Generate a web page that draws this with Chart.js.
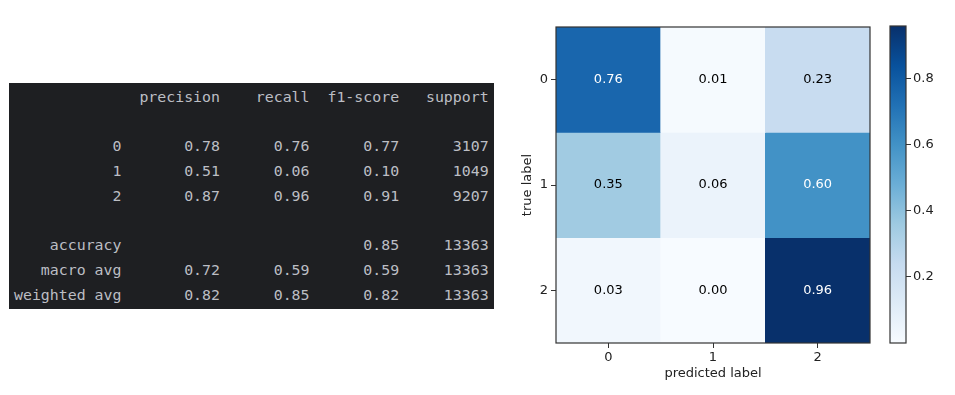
<!DOCTYPE html>
<html>
<head>
<meta charset="utf-8">
<script src="https://cdn.jsdelivr.net/npm/chart.js@4.4.1/dist/chart.umd.min.js"></script>
<style>
  html, body { margin: 0; padding: 0; background: #fff; }
  body { width: 955px; height: 395px; position: relative; overflow: hidden; }
  #report {
    position: absolute; left: 9px; top: 83px; width: 485px; height: 226px;
    background: #1e1f22; box-sizing: border-box; padding: 2px 0 0 5px;
  }
  #report pre {
    margin: 0; font-family: 'DejaVu Sans Mono', monospace; font-size: 14.88px;
    line-height: 24.7px; color: #bcbec4;
  }
  #heat { position: absolute; left: 500px; top: 0; }
  #cbar { position: absolute; left: 880px; top: 0; }
</style>
</head>
<body>
<div id="report"><pre id="reportText"></pre></div>
<canvas id="heat" width="380" height="395"></canvas>
<canvas id="cbar" width="75" height="395"></canvas>
<script>
// classification report
const reportLabels = ['0', '1', '2'];
const precision = [0.78, 0.51, 0.87];
const recall = [0.76, 0.06, 0.96];
const f1 = [0.77, 0.10, 0.91];
const support = [3107, 1049, 9207];
const accuracy = 0.85;
const total = 13363;
const macroAvg = [0.72, 0.59, 0.59];
const weightedAvg = [0.82, 0.85, 0.82];

// confusion matrix (normalized)
const classLabels = ['0', '1', '2'];
const cm = [
    [0.76, 0.01, 0.23],
    [0.35, 0.06, 0.60],
    [0.03, 0.00, 0.96]
];
const cbTicks = [0.2, 0.4, 0.6, 0.8];

// build the text report like sklearn does
const W = 12;
const col = (s) => ' ' + String(s).padStart(9);
const num = (v) => col(v.toFixed(2));
let lines = [];
lines.push(''.padStart(W) + ' ' + col('precision') + col('recall') + col('f1-score') + col('support'));
lines.push('');
reportLabels.forEach((l, i) => {
    lines.push(l.padStart(W) + ' ' + num(precision[i]) + num(recall[i]) + num(f1[i]) + col(support[i]));
});
lines.push('');
lines.push('accuracy'.padStart(W) + ' ' + col('') + col('') + num(accuracy) + col(total));
lines.push('macro avg'.padStart(W) + ' ' + macroAvg.map(num).join('') + col(total));
lines.push('weighted avg'.padStart(W) + ' ' + weightedAvg.map(num).join('') + col(total));
document.getElementById('reportText').textContent = lines.join('\n');

// matplotlib Blues
const bluesStops = ['#f7fbff', '#deebf7', '#c6dbef', '#9ecae1', '#6baed6', '#4292c6', '#2171b5', '#08519c', '#08306b'];
function hexRgb(h) {
    return [parseInt(h.slice(1, 3), 16), parseInt(h.slice(3, 5), 16), parseInt(h.slice(5, 7), 16)];
}
function blues(t) {
    t = Math.max(0, Math.min(1, t));
    const p = t * (bluesStops.length - 1);
    const i = Math.min(Math.floor(p), bluesStops.length - 2);
    const f = p - i;
    const a = hexRgb(bluesStops[i]), b = hexRgb(bluesStops[i + 1]);
    const c = a.map((v, k) => Math.round(v + (b[k] - v) * f));
    return 'rgb(' + c.join(',') + ')';
}
const allVals = cm.flat();
const vmin = Math.min(...allVals);
const vmax = Math.max(...allVals);
const norm = (v) => (v - vmin) / (vmax - vmin);

Chart.defaults.font.family = 'DejaVu Sans';
Chart.defaults.font.size = 13;
Chart.defaults.color = '#222';
Chart.defaults.animation = false;

const frame = {
    id: 'frame',
    afterDraw(chart) {
        const a = chart.chartArea, ctx = chart.ctx;
        ctx.save();
        ctx.strokeStyle = '#333';
        ctx.lineWidth = 1.2;
        ctx.strokeRect(a.left, a.top, a.width, a.height);
        ctx.restore();
    }
};

const cellText = {
    id: 'cellText',
    afterDatasetsDraw(chart) {
        const ctx = chart.ctx;
        ctx.save();
        ctx.font = '13px "DejaVu Sans"';
        ctx.textAlign = 'center';
        ctx.textBaseline = 'middle';
        chart.data.datasets.forEach((ds, i) => {
            chart.getDatasetMeta(i).data.forEach((el, j) => {
                const v = ds.values[j];
                ctx.fillStyle = v > vmax / 2 ? '#fff' : '#000';
                ctx.fillText(v.toFixed(2), el.x, (el.y + el.base) / 2);
            });
        });
        ctx.restore();
    }
};

new Chart(document.getElementById('heat'), {
    type: 'bar',
    data: {
        labels: classLabels,
        datasets: cm.map((row, i) => ({
            data: row.map(() => [i, i + 1]),
            values: row,
            backgroundColor: row.map(v => blues(norm(v))),
            borderWidth: 0,
            grouped: false,
            barPercentage: 1,
            categoryPercentage: 1
        }))
    },
    options: {
        responsive: false,
        layout: { padding: { left: 0, right: 10, top: 27, bottom: 0 } },
        plugins: { legend: { display: false }, tooltip: { enabled: false } },
        scales: {
            x: {
                afterFit: (s) => { s.height = 52; },
                grid: { drawOnChartArea: false, offset: false, tickLength: 5, tickColor: '#333' },
                border: { display: false },
                ticks: { padding: 2, color: '#222' },
                title: { display: true, text: 'predicted label', color: '#222', padding: { top: 0, bottom: 14 } }
            },
            y: {
                min: 0,
                max: 3,
                reverse: true,
                afterFit: (s) => { s.width = 56; },
                afterBuildTicks: (s) => { s.ticks = classLabels.map((l, i) => ({ value: i + 0.5 })); },
                grid: { drawOnChartArea: false, tickLength: 5, tickColor: '#333' },
                border: { display: false },
                ticks: { padding: 3, color: '#222', callback: (v, i) => classLabels[i] },
                title: { display: true, text: 'true label', color: '#222', padding: { top: 20, bottom: 0 } }
            }
        }
    },
    plugins: [cellText, frame]
});

new Chart(document.getElementById('cbar'), {
    type: 'bar',
    data: {
        labels: [''],
        datasets: [{
            data: [[vmin, vmax]],
            borderWidth: 0,
            barPercentage: 1,
            categoryPercentage: 1,
            backgroundColor: (c) => {
                const a = c.chart.chartArea;
                if (!a) return '#fff';
                const g = c.chart.ctx.createLinearGradient(0, a.bottom, 0, a.top);
                bluesStops.forEach((s, k) => g.addColorStop(k / (bluesStops.length - 1), s));
                return g;
            }
        }]
    },
    options: {
        responsive: false,
        layout: { padding: { left: 10, right: 0, top: 26, bottom: 52 } },
        plugins: { legend: { display: false }, tooltip: { enabled: false } },
        scales: {
            x: { display: false },
            y: {
                position: 'right',
                min: vmin,
                max: vmax,
                afterFit: (s) => { s.width = 49; },
                afterBuildTicks: (s) => { s.ticks = cbTicks.map(v => ({ value: v })); },
                grid: { drawOnChartArea: false, tickLength: 5, tickColor: '#333' },
                border: { display: false },
                ticks: { padding: 2, color: '#222', callback: (v) => v.toFixed(1) }
            }
        }
    },
    plugins: [frame]
});
</script>
</body>
</html>
